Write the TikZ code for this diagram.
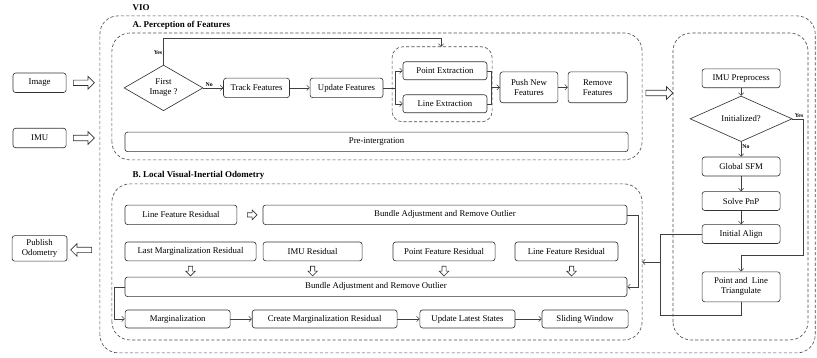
\documentclass[tikz,border=0pt]{standalone}
\usepackage{fontspec}
\setmainfont{Liberation Serif}
\usepackage{tikz}
\usetikzlibrary{shapes.geometric, shapes.arrows, arrows.meta}

\newcommand{\letra}{\fontsize{8.3}{9.5}\selectfont}

\tikzset{
  caja/.style={draw=black!80, line width=0.6pt, rounded corners=2.5pt, minimum height=0.65cm, inner sep=1pt, align=center, font=\letra},
  rombo/.style={draw=black!80, line width=0.6pt, diamond, inner sep=0pt, align=center, font=\letra},
  grupo/.style={draw=black!70, line width=0.6pt, dash pattern=on 3pt off 2pt, rounded corners=0.6cm},
  flecha/.style={single arrow, draw=black!80, line width=0.6pt, inner sep=0.08cm, single arrow head extend=0.12cm, minimum height=0.7cm},
  flechita/.style={single arrow, draw=black!80, line width=0.6pt, inner sep=0.06cm, single arrow head extend=0.09cm, minimum height=0.32cm},
  linea/.style={draw=black!75, line width=0.5pt, -{Straight Barb[length=2.5pt,width=5pt]}},
  etiq/.style={anchor=west, font=\bfseries\fontsize{8.5}{10}\selectfont},
  sino/.style={font=\bfseries\fontsize{5.5}{6}\selectfont, inner sep=1pt}
}

\begin{document}
\begin{tikzpicture}

\useasboundingbox (0,0) rectangle (27.23,11.93);

% Marcos punteados
\draw[grupo] (3.33,0.17) rectangle (27.17,11.4);
\draw[grupo] (3.73,6.6) rectangle (21.4,10.83);
\draw[grupo] (3.73,0.6) rectangle (21.4,5.8);
\draw[grupo] (22.43,0.6) rectangle (26.93,10.83);
\draw[grupo, rounded corners=0.35cm] (13.07,7.87) rectangle (16.4,10.37);
\coordinate (extop) at (14.7,10.37);
\coordinate (bder) at (21.4,3.2);

% Etiquetas
\node[etiq] (vio) at (4.3,11.67) {VIO};
\node[etiq] (tita) at (4.3,11.1) {A. Perception of Features};
\node[etiq] (titb) at (4.3,6.07) {B. Local Visual-Inertial Odometry};

% Entradas y salida
\node[caja, minimum width=1.77cm] (image) at (1.32,9.17) {Image};
\node[caja, minimum width=1.77cm] (imu) at (1.32,7.33) {IMU};
\node[caja, minimum width=1.83cm, minimum height=0.85cm] (publish) at (1.32,3.65) {Publish\\Odometry};
\node[flecha] (f1) at (2.75,9.17) {};
\node[flecha] (f2) at (2.75,7.33) {};
\node[flecha, shape border rotate=180] (f3) at (2.75,3.6) {};
\node[flecha, minimum height=0.9cm] (f4) at (21.93,8.83) {};

% A. Percepcion
\node[rombo, minimum width=2.63cm, minimum height=1.47cm] (first) at (5.45,9.0) {First\\Image ?};
\node[caja, minimum width=2.2cm] (track) at (8.55,9.0) {Track Features};
\node[caja, minimum width=2.43cm] (update) at (11.55,9.0) {Update Features};
\node[caja, minimum width=2.8cm, minimum height=0.6cm] (pext) at (14.83,9.57) {Point Extraction};
\node[caja, minimum width=2.8cm, minimum height=0.6cm] (lext) at (14.83,8.47) {Line Extraction};
\node[caja, minimum width=1.93cm, minimum height=1.03cm] (push) at (17.63,9.02) {Push New\\Features};
\node[caja, minimum width=1.97cm, minimum height=1.03cm] (remove) at (19.92,9.02) {Remove\\Features};
\node[caja, minimum width=16.77cm] (preint) at (12.55,7.2) {Pre-intergration};

\draw[linea] (first.north) -- ++(0,0.87) node[sino, left, pos=0.45] {Yes} -| (extop);
\draw[linea] (first) -- (track) node[sino, above, pos=0.3] {No};
\draw[linea] (track) -- (update);
\draw[linea] (update.east) -- ++(0.4,0) |- (pext.west);
\draw[linea] (update.east) -- ++(0.4,0) |- (lext.west);
\draw[linea] (pext.east) -- ++(0.14,0) |- (push.west);
\draw[draw=black!75, line width=0.5pt] (lext.east) -- ++(0.14,0) |- (push.west);
\draw[linea] (push) -- (remove);

% Inicializacion
\node[caja, minimum width=2.6cm, minimum height=0.63cm] (imupre) at (24.7,9.32) {IMU Preprocess};
\node[rombo, minimum width=3.4cm, minimum height=1.27cm] (init) at (24.7,7.97) {Initialized?};
\node[caja, minimum width=2.6cm, minimum height=0.63cm] (gsfm) at (24.7,6.38) {Global SFM};
\node[caja, minimum width=2.6cm, minimum height=0.63cm] (pnp) at (24.7,5.23) {Solve PnP};
\node[caja, minimum width=2.6cm, minimum height=0.63cm] (align) at (24.7,4.13) {Initial Align};
\node[caja, minimum width=2.6cm, minimum height=1.0cm] (triang) at (24.7,2.37) {Point and~ Line\\Triangulate};

\draw[linea] (imupre) -- (init);
\draw[linea] (init) -- (gsfm) node[sino, right, pos=0.35] {No};
\draw[linea] (gsfm) -- (pnp);
\draw[linea] (pnp) -- (align);
\draw[linea] (init.east) -- ++(0.37,0) node[sino, above, pos=0.6] {Yes} -- ++(0,-4.54) -| (triang.north);
\draw[linea] (align.west) -- ++(-1.4,0) |- (bder);
\draw[draw=black!75, line width=0.5pt] (triang.south) -- ++(0,-0.44) -- ++(-2.7,0) -- ++(0,1.77);

% B. Odometria
\node[caja, minimum width=3.73cm] (lfr) at (6.03,4.77) {Line Feature Residual};
\node[flechita] (f5) at (8.37,4.77) {};
\node[caja, minimum width=12.13cm] (bundlea) at (14.83,4.77) {Bundle Adjustment and Remove Outlier};

\node[caja, minimum width=4.37cm, minimum height=0.63cm] (lastm) at (6.35,3.55) {Last Marginalization Residual};
\node[caja, minimum width=3.3cm, minimum height=0.63cm] (imur) at (10.42,3.55) {IMU Residual};
\node[caja, minimum width=3.4cm, minimum height=0.63cm] (pfr) at (14.8,3.55) {Point Feature Residual};
\node[caja, minimum width=3.43cm, minimum height=0.63cm] (lfr2) at (18.88,3.55) {Line Feature Residual};
\foreach \x in {6.35,10.42,14.8,19.05}
  \node[flechita, shape border rotate=270] at (\x,2.93) {};

\node[caja, minimum width=16.73cm] (bundleb) at (12.53,2.37) {Bundle Adjustment and Remove Outlier};

\node[caja, minimum width=3.5cm, minimum height=0.6cm] (marg) at (5.92,1.3) {Marginalization};
\node[caja, minimum width=4.83cm, minimum height=0.6cm] (create) at (10.82,1.3) {Create Marginalization Residual};
\node[caja, minimum width=3.17cm, minimum height=0.6cm] (latest) at (15.58,1.3) {Update Latest States};
\node[caja, minimum width=2.87cm, minimum height=0.6cm] (sliding) at (19.5,1.3) {Sliding Window};

\draw[linea] (bundlea.east) -- ++(0.37,0) |- (bundleb.east);
\draw[linea] (bundleb.west) -- ++(-0.33,0) |- (marg.west);
\draw[linea] (marg) -- (create);
\draw[linea] (create) -- (latest);
\draw[linea] (latest) -- (sliding);

\end{tikzpicture}
\end{document}
